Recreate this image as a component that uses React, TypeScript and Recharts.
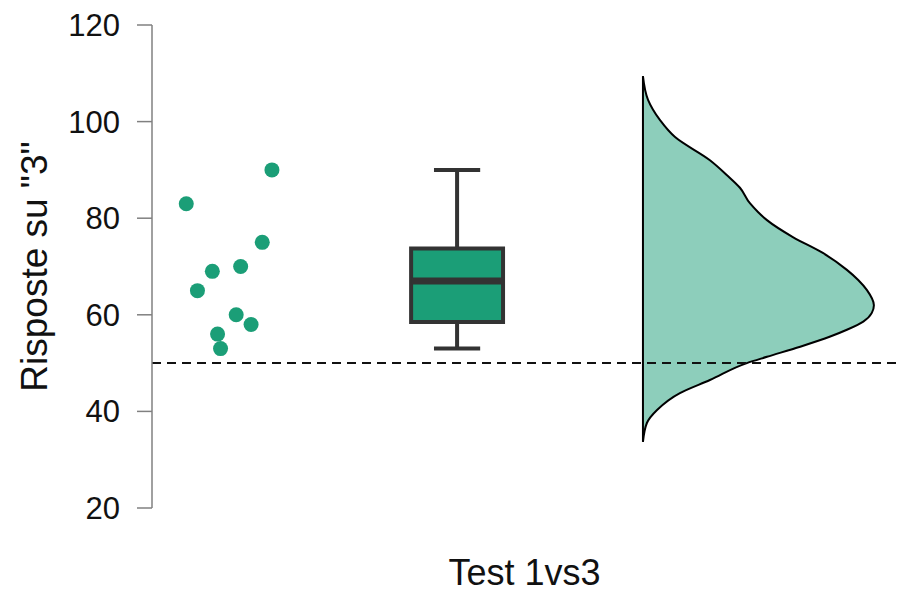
import React from "react";
import {
  ComposedChart, XAxis, YAxis, Scatter, Area, ReferenceLine, ReferenceArea,
} from "recharts";

// raw answers (jittered horizontal position, value)
const POINT_X = [16.1, 4.6, 14.8, 11.9, 8.1, 6.1, 11.3, 13.3, 8.8, 9.2];
const POINT_Y = [90, 83, 75, 70, 69, 65, 60, 58, 56, 53];

// half-violin: value levels and relative density (peak = 1)
const DENS_Y = [109.4, 104.5, 100.3, 96.8, 92.0, 88.9, 86.3, 83.1, 81.3, 79.6, 76.1, 72.8, 69.3, 67.2, 65.1, 62.0, 60.4, 58.6, 56.9, 55.5, 53.4, 51.3, 50.0, 46.5, 43.8, 40.3, 37.6, 33.7];
const DENS = [0, 0.022, 0.074, 0.139, 0.29, 0.364, 0.42, 0.463, 0.498, 0.537, 0.649, 0.779, 0.883, 0.932, 0.970, 1.0, 0.991, 0.954, 0.883, 0.811, 0.681, 0.537, 0.450, 0.29, 0.16, 0.061, 0.017, 0];

const Y_TICKS = [20, 40, 60, 80, 100, 120];
const TEST_VALUE = 50;

const GREEN = "#1b9e77";
const LIGHT_GREEN = "#8dcebb";
const DARK = "#333333";
const FONT = "'Liberation Sans', Arial, sans-serif";

// horizontal layout (x axis units 0..100)
const BOX_X = 40.95;
const BOX_HALF = 6.17;
const CAP_HALF = 3.1;
const DENS_BASE = 65.9;
const DENS_SCALE = 31.0;

function quantile(sorted: number[], p: number) {
  const pos = (sorted.length - 1) * p;
  const lo = Math.floor(pos);
  const hi = Math.ceil(pos);
  return sorted[lo] + (sorted[hi] - sorted[lo]) * (pos - lo);
}

const sortedY = [...POINT_Y].sort((a, b) => a - b);
const q1 = quantile(sortedY, 0.25);
const med = quantile(sortedY, 0.5);
const q3 = quantile(sortedY, 0.75);
const wLow = sortedY[0];
const wHigh = sortedY[sortedY.length - 1];

const points = POINT_Y.map((y, i) => ({ x: POINT_X[i], y }));
const densRows = DENS_Y.map((y, i) => ({ y, range: [DENS_BASE, DENS_BASE + DENS[i] * DENS_SCALE] }));

function YTitle(props: any) {
  const vb = props.viewBox || { x: 0, y: 25, width: 152, height: 483 };
  const cx = vb.x + 34;
  const cy = vb.y + vb.height / 2;
  return (
    <text
      x={cx}
      y={cy}
      transform={`rotate(-90, ${cx}, ${cy})`}
      textAnchor="middle"
      dominantBaseline="central"
      fontSize={37}
      fontFamily={FONT}
      fill="#111"
    >
      Risposte su "3"
    </text>
  );
}

export default function App() {
  return (
    <div style={{ position: "absolute", left: 0, top: 0, background: "#fff" }}>
      <ComposedChart
        width={903}
        height={592}
        layout="vertical"
        margin={{ top: 25, right: 6, bottom: 0, left: 0 }}
      >
        <XAxis
          type="number"
          dataKey="x"
          domain={[0, 100]}
          tick={false}
          axisLine={false}
          tickLine={false}
          height={84}
          label={{ value: "Test 1vs3", position: "insideBottom", offset: 7, fontSize: 36, fontFamily: FONT, fill: "#111" }}
        />
        <YAxis
          type="number"
          dataKey="y"
          domain={[20, 120]}
          reversed
          ticks={Y_TICKS}
          width={152}
          tickSize={15}
          tickMargin={17}
          axisLine={{ stroke: "#808080", strokeWidth: 1.5 }}
          tickLine={{ stroke: "#808080", strokeWidth: 1.5 }}
          tick={{ fontSize: 31, fontFamily: FONT, fill: "#111" }}
          label={{ value: 'Risposte su "3"', content: YTitle }}
        />

        <Area
          data={densRows}
          dataKey="range"
          type="monotone"
          fill={LIGHT_GREEN}
          fillOpacity={1}
          stroke="#000"
          strokeWidth={2}
          isAnimationActive={false}
          dot={false}
          activeDot={false}
        />

        {/* whiskers */}
        <ReferenceLine segment={[{ x: BOX_X, y: q3 }, { x: BOX_X, y: wHigh }]} stroke={DARK} strokeWidth={4} />
        <ReferenceLine segment={[{ x: BOX_X, y: wLow }, { x: BOX_X, y: q1 }]} stroke={DARK} strokeWidth={4} />
        <ReferenceLine segment={[{ x: BOX_X - CAP_HALF, y: wHigh }, { x: BOX_X + CAP_HALF, y: wHigh }]} stroke={DARK} strokeWidth={4} />
        <ReferenceLine segment={[{ x: BOX_X - CAP_HALF, y: wLow }, { x: BOX_X + CAP_HALF, y: wLow }]} stroke={DARK} strokeWidth={4} />

        {/* box */}
        <ReferenceArea
          x1={BOX_X - BOX_HALF}
          x2={BOX_X + BOX_HALF}
          y1={q1}
          y2={q3}
          fill={GREEN}
          fillOpacity={1}
          stroke={DARK}
          strokeWidth={4}
        />
        <ReferenceLine segment={[{ x: BOX_X - BOX_HALF, y: med }, { x: BOX_X + BOX_HALF, y: med }]} stroke={DARK} strokeWidth={7} />

        <ReferenceLine y={TEST_VALUE} stroke="#111" strokeWidth={2} strokeDasharray="9 6" />

        <Scatter
          data={points}
          fill={GREEN}
          isAnimationActive={false}
          shape={(p: any) => <circle cx={p.cx} cy={p.cy} r={7.5} fill={GREEN} />}
        />
      </ComposedChart>
    </div>
  );
}
